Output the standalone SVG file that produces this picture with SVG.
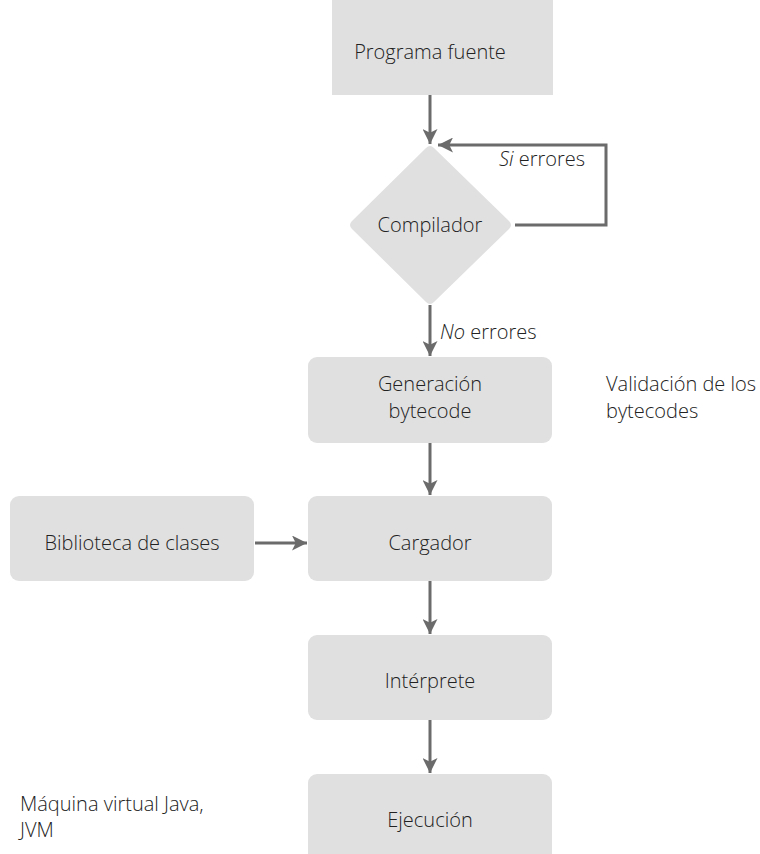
<svg xmlns="http://www.w3.org/2000/svg" width="760" height="854" viewBox="0 0 760 854">
  <style>
    .box { fill: #e0e0e0; }
    .lbl { font-family: "Open Sans", "Liberation Sans", sans-serif; font-weight: 300; font-size: 20px; fill: #222222; }
    .mid { text-anchor: middle; }
    .edge { fill: none; stroke: #6b6b6b; stroke-width: 3; }
  </style>
  <defs>
    <marker id="arrow" viewBox="0 0 10 10" refX="10" refY="5" markerUnits="userSpaceOnUse" markerWidth="17" markerHeight="15" orient="auto">
      <path d="M0,0 L10,5 L0,10 L2.5,5 Z" fill="#6b6b6b"/>
    </marker>
  </defs>

  <g id="connectors">
    <line class="edge" x1="430" y1="95" x2="430" y2="144" marker-end="url(#arrow)"/>
    <polyline class="edge" points="515,225 606,225 606,145 438,145" marker-end="url(#arrow)"/>
    <line class="edge" x1="430" y1="305" x2="430" y2="356" marker-end="url(#arrow)"/>
    <line class="edge" x1="430" y1="443" x2="430" y2="495" marker-end="url(#arrow)"/>
    <line class="edge" x1="255" y1="543" x2="307" y2="543" marker-end="url(#arrow)"/>
    <line class="edge" x1="430" y1="581" x2="430" y2="634" marker-end="url(#arrow)"/>
    <line class="edge" x1="430" y1="720" x2="430" y2="773" marker-end="url(#arrow)"/>
    <text class="lbl" x="499" y="166"><tspan font-style="italic">Si</tspan> errores</text>
    <text class="lbl" x="440" y="339"><tspan font-style="italic">No</tspan> errores</text>
  </g>

  <g id="programa-fuente">
    <rect class="box" x="332" y="-10" width="221" height="105"/>
    <text class="lbl mid" x="430" y="59">Programa fuente</text>
  </g>

  <g id="compilador">
    <path class="box" d="M426,148 Q430,144 434,148 L509,221 Q513,225 509,229 L434,302 Q430,306 426,302 L352,229 Q348,225 352,221 Z"/>
    <text class="lbl mid" x="430" y="232">Compilador</text>
  </g>

  <g id="generacion-bytecode">
    <rect class="box" x="308" y="357" width="244" height="86" rx="9"/>
    <text class="lbl mid" x="430" y="391">Generación</text>
    <text class="lbl mid" x="430" y="418">bytecode</text>
  </g>

  <g id="validacion">
    <text class="lbl" x="606" y="391">Validación de los</text>
    <text class="lbl" x="606" y="418">bytecodes</text>
  </g>

  <g id="biblioteca">
    <rect class="box" x="10" y="496" width="244" height="85" rx="9"/>
    <text class="lbl mid" x="132" y="550">Biblioteca de clases</text>
  </g>

  <g id="cargador">
    <rect class="box" x="308" y="496" width="244" height="85" rx="9"/>
    <text class="lbl mid" x="430" y="550">Cargador</text>
  </g>

  <g id="interprete">
    <rect class="box" x="308" y="635" width="244" height="85" rx="9"/>
    <text class="lbl mid" x="430" y="688">Intérprete</text>
  </g>

  <g id="ejecucion">
    <rect class="box" x="308" y="774" width="244" height="90" rx="9"/>
    <text class="lbl mid" x="430" y="827">Ejecución</text>
  </g>

  <g id="jvm">
    <text class="lbl" x="20" y="811">Máquina virtual Java,</text>
    <text class="lbl" x="20" y="837">JVM</text>
  </g>
</svg>
